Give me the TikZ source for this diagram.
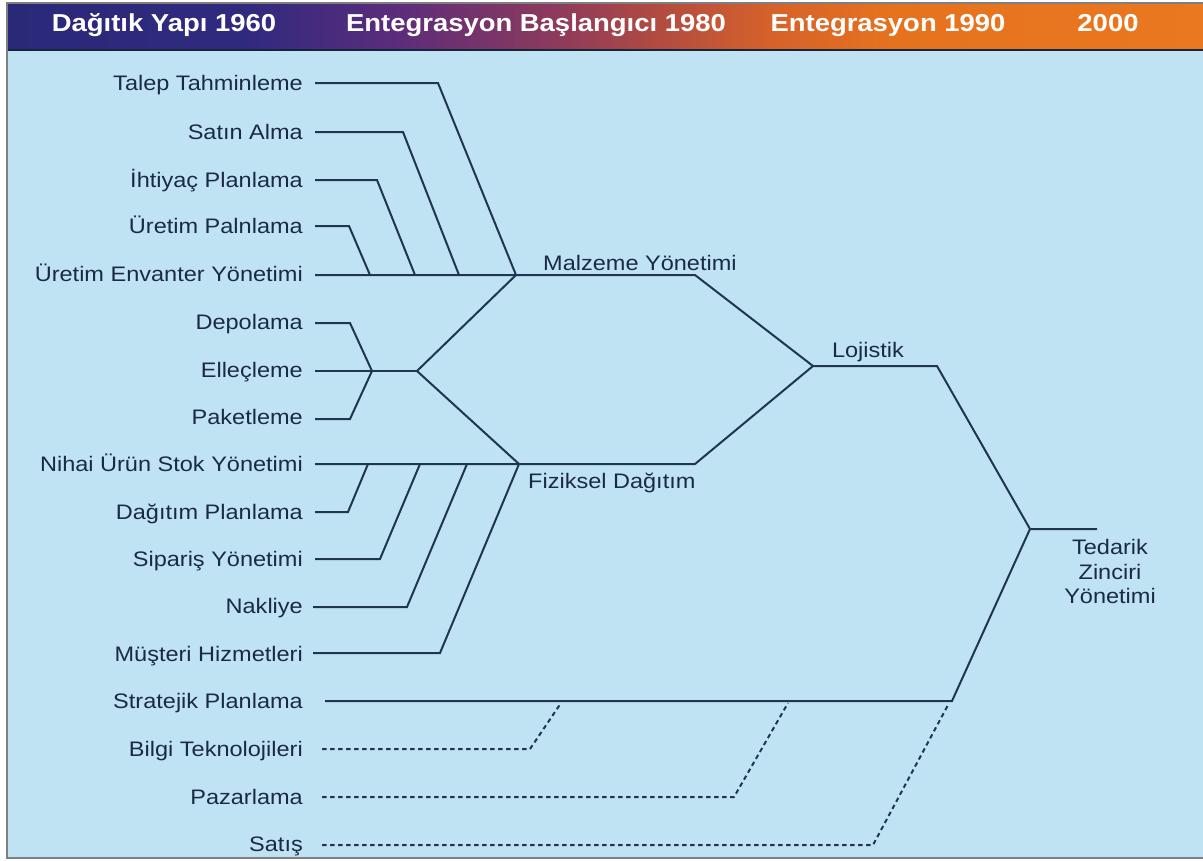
\documentclass[tikz,border=0pt]{standalone}
\usepackage{fontspec}
\setmainfont[FakeStretch=1.12]{Liberation Sans}
\definecolor{bodybg}{HTML}{C0E3F3}
\definecolor{frame}{HTML}{7F7F7F}
\definecolor{ink}{HTML}{1B2A44}
\definecolor{wire}{HTML}{1F3550}
\definecolor{hA}{HTML}{2A2978}
\definecolor{hB}{HTML}{302A7E}
\definecolor{hC}{HTML}{5A2C7C}
\definecolor{hD}{HTML}{8E3A5C}
\definecolor{hE}{HTML}{B04A42}
\definecolor{hF}{HTML}{D6622A}
\definecolor{hG}{HTML}{E6721E}
\definecolor{hH}{HTML}{EA7820}
\pgfdeclarehorizontalshading{hdrshade}{100bp}{color(0bp)=(hA); color(25bp)=(hA); color(35bp)=(hB); color(41bp)=(hC); color(48bp)=(hD); color(52bp)=(hE); color(57bp)=(hF); color(62bp)=(hG); color(75bp)=(hH); color(100bp)=(hH)}
\tikzset{
  lbl/.style={anchor=base east, inner sep=0pt, text=ink, font=\fontsize{21bp}{25bp}\selectfont},
  mid/.style={inner sep=0pt, text=ink, font=\fontsize{21bp}{25bp}\selectfont},
  hdr/.style={anchor=base, inner sep=0pt, text=white, font=\fontsize{24.5bp}{28bp}\selectfont\bfseries},
  wireline/.style={draw=wire, line width=2bp, line join=miter},
  dashline/.style={draw=wire, line width=2bp, dash pattern=on 4.5bp off 3.5bp},
}
\begin{document}
\begin{tikzpicture}[x=1bp,y=-1bp]
\useasboundingbox (0,0) rectangle (1203,861);
\fill[white] (0,0) rectangle (1203,861);
\fill[bodybg] (7,50) rectangle (1203,858);
\shade[shading=hdrshade] (7,3) rectangle (1203,50);
\draw[wire!70!black, line width=1.2bp] (7,50) -- (1203,50);
\draw[frame, line width=2bp] (1203,3) -- (7,3) -- (7,858) -- (1203,858);

% header
\node[hdr] (h1) at (164,31) {Dağıtık Yapı 1960};
\node[hdr] (h2) at (536,31) {Entegrasyon Başlangıcı 1980};
\node[hdr] (h3) at (888,31) {Entegrasyon 1990};
\node[hdr] (h4) at (1108,31) {2000};

% left labels
\node[lbl] (l1) at (303,90) {Talep Tahminleme};
\node[lbl] (l2) at (303,139) {Satın Alma};
\node[lbl] (l3) at (303,187) {İhtiyaç Planlama};
\node[lbl] (l4) at (303,233) {Üretim Palnlama};
\node[lbl] (l5) at (303,281) {Üretim Envanter Yönetimi};
\node[lbl] (l6) at (303,329) {Depolama};
\node[lbl] (l7) at (303,377) {Elleçleme};
\node[lbl] (l8) at (303,424) {Paketleme};
\node[lbl] (l9) at (303,471) {Nihai Ürün Stok Yönetimi};
\node[lbl] (l10) at (303,519) {Dağıtım Planlama};
\node[lbl] (l11) at (303,566) {Sipariş Yönetimi};
\node[lbl] (l12) at (303,613) {Nakliye};
\node[lbl] (l13) at (303,661) {Müşteri Hizmetleri};
\node[lbl] (l14) at (303,708) {Stratejik Planlama};
\node[lbl] (l15) at (303,756) {Bilgi Teknolojileri};
\node[lbl] (l16) at (303,804) {Pazarlama};
\node[lbl] (l17) at (303,851) {Satış};

% middle labels
\node[mid, anchor=base west] (mz) at (543,270) {Malzeme Yönetimi};
\node[mid, anchor=base west] (fd) at (528,488) {Fiziksel Dağıtım};
\node[mid, anchor=base] (lj) at (868,357) {Lojistik};
\node[mid, anchor=north, align=center, font=\fontsize{21bp}{24.5bp}\selectfont] (tz) at (1110,539.5) {Tedarik\\Zinciri\\Yönetimi};

% junction coordinates
\coordinate (jM) at (516,275);
\coordinate (jMe) at (695,275);
\coordinate (jE) at (417,371);
\coordinate (jEs) at (372,371);
\coordinate (jF) at (519,464);
\coordinate (jFe) at (695,464);
\coordinate (jL) at (813,366);
\coordinate (jLe) at (937,366);
\coordinate (jT) at (1030,529);
\coordinate (jTe) at (1097,529);
\coordinate (jS) at (952,701);

% upper group
\draw[wireline] (315,83) -- (438,83) -- (jM);
\draw[wireline] (315,132) -- (403,132) -- (459,275);
\draw[wireline] (315,180) -- (377,180) -- (415,275);
\draw[wireline] (315,226) -- (349,226) -- (370,275);
\draw[wireline] (315,275) -- (jMe) -- (jL);
% middle group
\draw[wireline] (315,323) -- (350,323) -- (jEs);
\draw[wireline] (315,419) -- (350,419) -- (jEs);
\draw[wireline] (315,371) -- (jE);
\draw[wireline] (jM) -- (jE) -- (jF);
% lower group
\draw[wireline] (315,464) -- (jFe) -- (jL);
\draw[wireline] (315,512) -- (348,512) -- (368,464);
\draw[wireline] (315,559) -- (380,559) -- (420,464);
\draw[wireline] (313,607) -- (407,607) -- (467,464);
\draw[wireline] (313,653) -- (440,653) -- (jF);
% logistics and SCM
\draw[wireline] (jL) -- (jLe) -- (jT) -- (jTe);
\draw[wireline] (jT) -- (jS) -- (325,701);
% dashed
\draw[dashline] (322,749) -- (530,749) -- (561,703);
\draw[dashline] (322,797) -- (734,797) -- (788,703);
\draw[dashline] (322,845) -- (873,845) -- (948,705);
\end{tikzpicture}
\end{document}
